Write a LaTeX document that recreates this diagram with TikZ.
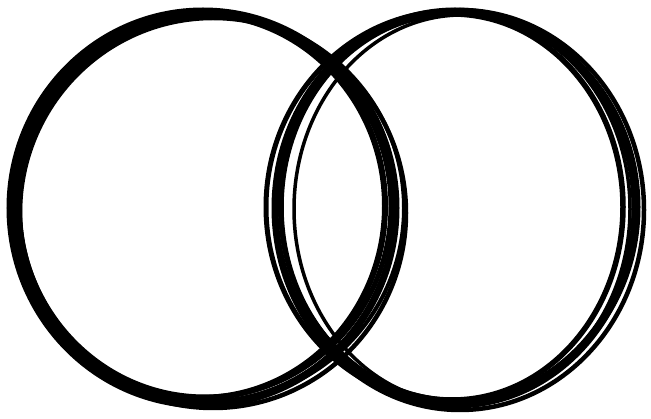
\documentclass[tikz,border=0pt]{standalone}
\begin{document}
\begin{tikzpicture}[x=1pt,y=-1pt,
  loopline/.style={draw=black, line width=#1},
  loopline/.default=4pt]
\useasboundingbox (0,0) rectangle (651,419);
\fill[white] (0,0) rectangle (651,419);
% left ring
\draw[loopline=7pt] (203,208) ellipse [x radius=193, y radius=197];
\draw[loopline=6pt] (200,206) ellipse [x radius=185, y radius=192];
\draw[loopline=5pt] (206,208) ellipse [x radius=190, y radius=194];
\draw[loopline=4.5pt] (213,213) ellipse [x radius=193, y radius=195];
\draw[loopline=5pt] (205,206) ellipse [x radius=186, y radius=191];
\draw[loopline=4pt] (212,208) ellipse [x radius=192, y radius=193];
% right ring
\draw[loopline=7pt] (455,208) ellipse [x radius=180, y radius=197];
\draw[loopline=5pt] (452,207) ellipse [x radius=186, y radius=196];
\draw[loopline=4.5pt] (460,210) ellipse [x radius=184, y radius=200];
\draw[loopline=3.5pt] (462,209) ellipse [x radius=168, y radius=194];
\draw[loopline=5.5pt] (452,207) ellipse [x radius=171, y radius=193];
\draw[loopline=4pt] (457,206) ellipse [x radius=177, y radius=194];
\end{tikzpicture}
\end{document}
